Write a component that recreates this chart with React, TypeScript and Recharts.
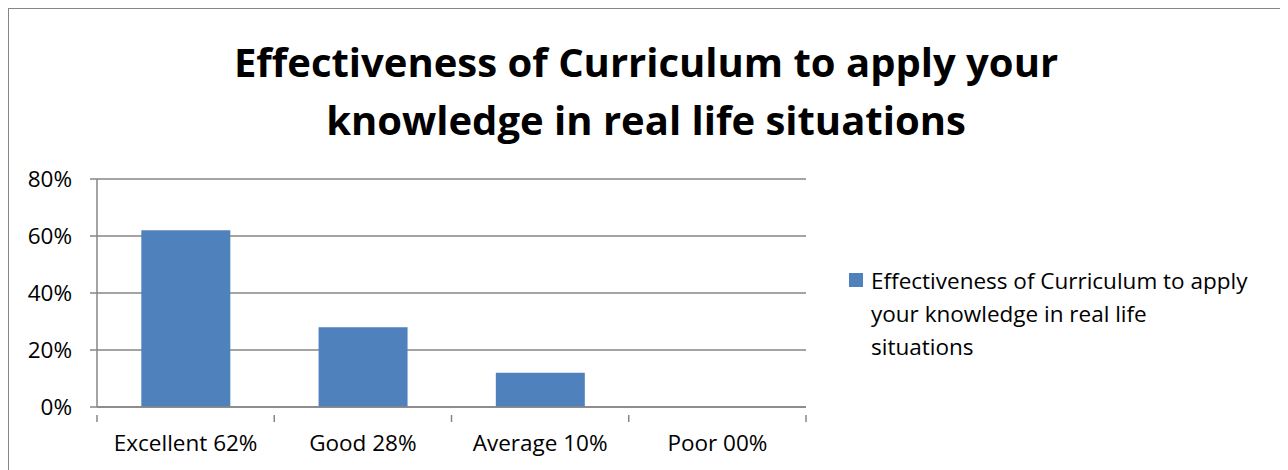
import { Bar, BarChart, CartesianGrid, XAxis, YAxis } from 'recharts'

const categories = ['Excellent 62%', 'Good 28%', 'Average 10%', 'Poor 00%']
const shares = [0.62, 0.28, 0.12, 0]
const yTicks = [0, 0.2, 0.4, 0.6, 0.8]
const legendLines = [
  'Effectiveness of Curriculum to apply',
  'your knowledge in real life',
  'situations',
]
const titleLines = [
  'Effectiveness of Curriculum to apply your',
  'knowledge in real life situations',
]

const FONT = '"Open Sans", "Noto Sans", sans-serif'
const GRAY = '#868686'
const BLUE = '#4F81BD'
const LABEL_SIZE = 22.5

const W = 1274
const H = 461
const MARGIN = { top: 170, right: 477, bottom: 23, left: 28 }
const PLOT_W = W - MARGIN.left - MARGIN.right - 60

const chartData = categories.map((name, i) => ({ name, value: shares[i] }))

function CategoryTick(props: any) {
  const { x, y, payload, index } = props
  const band = PLOT_W / categories.length
  const left = x - band / 2
  const right = x + band / 2
  return (
    <g>
      <line x1={left} y1={y} x2={left} y2={y + 7} stroke={GRAY} strokeWidth={1.5} />
      {index === categories.length - 1 && (
        <line x1={right} y1={y} x2={right} y2={y + 7} stroke={GRAY} strokeWidth={1.5} />
      )}
      <text
        x={x}
        y={y + 36}
        textAnchor="middle"
        fontSize={LABEL_SIZE}
        fontFamily={FONT}
        fill="#000"
      >
        {payload.value}
      </text>
    </g>
  )
}

function LegendBox() {
  return (
    <div
      style={{
        position: 'absolute',
        left: 840,
        top: 255,
        display: 'flex',
        alignItems: 'flex-start',
        fontFamily: FONT,
      }}
    >
      <div
        style={{
          width: 14,
          height: 14,
          background: BLUE,
          marginTop: 9,
          marginRight: 8,
          flex: 'none',
        }}
      />
      <div style={{ fontSize: LABEL_SIZE, lineHeight: '33px', color: '#000', whiteSpace: 'nowrap' }}>
        {legendLines.map((l) => (
          <div key={l}>{l}</div>
        ))}
      </div>
    </div>
  )
}

export default function App() {
  return (
    <div
      style={{
        position: 'relative',
        width: 1276,
        height: 470,
        boxSizing: 'border-box',
        borderTop: `1px solid ${GRAY}`,
        borderLeft: `1px solid ${GRAY}`,
        borderRight: `1px solid ${GRAY}`,
        background: '#fff',
      }}
    >
      <div
        style={{
          position: 'absolute',
          left: 0,
          top: 24,
          width: 1274,
          textAlign: 'center',
          fontFamily: FONT,
          fontWeight: 700,
          fontSize: 40,
          lineHeight: '58px',
          color: '#000',
        }}
      >
        {titleLines.map((l) => (
          <div key={l}>{l}</div>
        ))}
      </div>
      <LegendBox />
      <BarChart width={W} height={H} data={chartData} margin={MARGIN} barCategoryGap="25%">
        <CartesianGrid horizontal vertical={false} stroke={GRAY} strokeWidth={1.5} />
        <XAxis
          dataKey="name"
          height={40}
          axisLine={{ stroke: GRAY, strokeWidth: 1.5 }}
          tickLine={false}
          interval={0}
          tick={<CategoryTick />}
        />
        <YAxis
          width={60}
          domain={[0, 0.8]}
          ticks={yTicks}
          tickFormatter={(v: number) => `${Math.round(v * 100)}%`}
          axisLine={{ stroke: GRAY, strokeWidth: 1.5 }}
          tickLine={{ stroke: GRAY, strokeWidth: 1.5 }}
          tickSize={7}
          tickMargin={18}
          tick={{ fill: '#000', fontSize: LABEL_SIZE, fontFamily: FONT }}
        />
        <Bar dataKey="value" fill={BLUE} isAnimationActive={false} />
      </BarChart>
    </div>
  )
}
